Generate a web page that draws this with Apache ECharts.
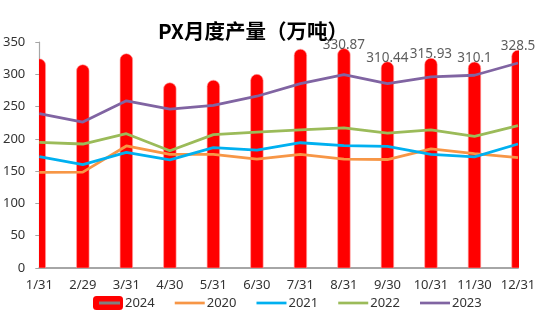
<!DOCTYPE html>
<html>
<head>
<meta charset="utf-8">
<script src="https://cdn.jsdelivr.net/npm/echarts@6/dist/echarts.min.js"></script>
<style>html,body{margin:0;padding:0;background:#fff}#c{width:550px;height:323px}</style>
</head>
<body>
<div id="c"></div>
<script>
const categories = ['1/31','2/29','3/31','4/30','5/31','6/30','7/31','8/31','9/30','10/31','11/30','12/31'];
const values2024 = [315, 306, 323, 278, 282, 291, 330, 330.87, 310.44, 315.93, 310.1, 328.5];
const labelled2024 = [false, false, false, false, false, false, false, true, true, true, true, true];
const values2020 = [148, 148.5, 189, 176, 176, 168.5, 176, 168.5, 168, 184.5, 177, 171];
const values2021 = [172.5, 160, 179, 167.5, 186.5, 182.5, 194, 189.5, 188.5, 176, 172, 192];
const values2022 = [194.5, 192, 208, 181.5, 206.5, 210.5, 214, 217, 209, 214, 204, 220.5];
const values2023 = [239, 226, 259, 246, 252, 266, 285.5, 299.5, 285.5, 296, 298.5, 317.5];
const yTicks = [0, 50, 100, 150, 200, 250, 300, 350];

const chart = echarts.init(document.getElementById('c'));
const txt = '#333333';
const font = 'Noto Sans';
const barW = 12.5;
const lineIcon = 'path://M0,0H100V9H0Z';

function lineSeries(name, data, color) {
  return {
    name, type: 'line', data, symbol: 'none', smooth: false,
    lineStyle: { color, width: 2.8 }, itemStyle: { color },
    z: 3
  };
}

chart.setOption({
  animation: false,
  title: {
    text: 'PX月度产量（万吨）',
    left: 153, top: 16,
    textStyle: { fontFamily: 'Noto Sans CJK SC', fontWeight: 'bold', fontSize: 20.5, color: '#000' }
  },
  grid: { left: 39, right: 32, top: 42, bottom: 55, containLabel: false },
  legend: {
    left: 88, top: 291,
    itemWidth: 30, itemHeight: 14, itemGap: 20,
    textStyle: { fontFamily: font, fontSize: 13, color: txt, padding: [0, 0, 0, -3] },
    data: [
      { name: '2024', icon: 'roundRect', itemStyle: { color: '#FF0000' } },
      { name: '2020', icon: lineIcon },
      { name: '2021', icon: lineIcon },
      { name: '2022', icon: lineIcon },
      { name: '2023', icon: lineIcon }
    ]
  },
  graphic: [{
    type: 'line', z: 100,
    shape: { x1: 99, y1: 303, x2: 120, y2: 303 },
    style: { stroke: '#7F7F7F', lineWidth: 3 }
  }],
  xAxis: {
    type: 'category', data: categories, boundaryGap: false,
    axisLine: { lineStyle: { color: '#A6A6A6', width: 2 } },
    axisTick: { show: false },
    axisLabel: { color: txt, fontFamily: font, fontSize: 13, margin: 11, interval: 0 },
    splitLine: { show: false }
  },
  yAxis: {
    type: 'value', min: yTicks[0], max: yTicks[yTicks.length - 1], interval: 50,
    axisLine: { show: true, lineStyle: { color: '#A6A6A6', width: 1.2 } },
    axisTick: { show: true, inside: false, length: 4, lineStyle: { color: '#A6A6A6' } },
    axisLabel: { color: txt, fontFamily: font, fontSize: 13, margin: 14 },
    splitLine: { show: false }
  },
  series: [
    {
      name: '2024', type: 'custom', clip: true, z: 2,
      itemStyle: { color: '#FF0000' },
      encode: { x: 0, y: 1 },
      data: values2024.map((v, i) => [i, v]),
      renderItem(params, api) {
        const top = api.coord([api.value(0), api.value(1)]);
        const base = api.coord([api.value(0), 0]);
        const r = barW / 2;
        return {
          type: 'rect',
          shape: { x: top[0] - r, y: top[1] - r + 0.5, width: barW, height: base[1] - top[1] + r - 0.5, r: [r, r, 0, 0] },
          style: { fill: '#FF0000', stroke: '#FFA0A0', lineWidth: 0.6 }
        };
      }
    },
    lineSeries('2020', values2020, '#F79646'),
    lineSeries('2021', values2021, '#00B0F0'),
    lineSeries('2022', values2022, '#9BBB59'),
    lineSeries('2023', values2023, '#8064A2'),
    {
      name: 'labels2024', type: 'scatter', data: values2024, symbolSize: 0, clip: false, z: 5,
      silent: true,
      label: {
        show: true, position: 'top', distance: 2.5,
        color: txt, fontFamily: font, fontSize: 13.5,
        formatter: p => labelled2024[p.dataIndex] ? String(p.value) : ''
      }
    }
  ]
});
</script>
</body>
</html>
